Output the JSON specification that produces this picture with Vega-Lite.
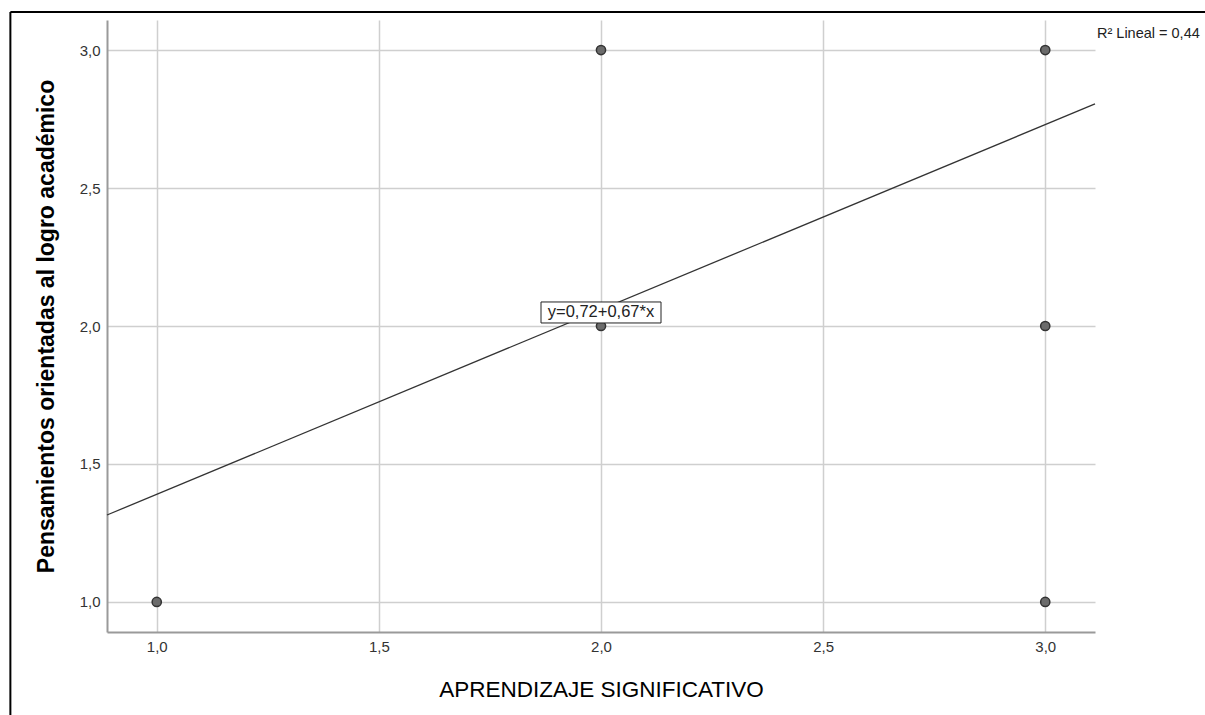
{
  "$schema": "https://vega.github.io/schema/vega-lite/v6.json",
  "autosize": "none",
  "width": 988,
  "height": 612,
  "padding": {"left": 107, "top": 20, "right": 110, "bottom": 83},
  "background": "white",
  "config": {
    "font": "Liberation Sans",
    "view": {"stroke": null},
    "axis": {
      "labelFont": "Liberation Sans",
      "titleFont": "Liberation Sans",
      "labelFontSize": 15,
      "labelColor": "#333333",
      "ticks": false,
      "domainColor": "#9a9a9a",
      "domainWidth": 2,
      "gridColor": "#cfcfcf",
      "gridWidth": 1.5,
      "gridOpacity": 1,
      "titleColor": "#000000",
      "titleFontSize": 22
    }
  },
  "datasets": {
    "points": [
      {"x": 1, "y": 1},
      {"x": 2, "y": 2},
      {"x": 2, "y": 3},
      {"x": 3, "y": 1},
      {"x": 3, "y": 2},
      {"x": 3, "y": 3}
    ],
    "fit": [
      {"x": 0.888, "y": 1.315, "x2": 3.112, "y2": 2.805}
    ],
    "eq": [
      {"x": 2.0, "y": 2.049, "label": "y=0,72+0,67*x"}
    ],
    "r2": [
      {"x": 3.112, "y": 3.06, "label": "R² Lineal = 0,44"}
    ],
    "frame": [
      {"x": 0.6705, "y": 3.1377, "x2": 3.36, "y2": 0.59}
    ]
  },
  "layer": [
    {
      "data": {"name": "fit"},
      "mark": {"type": "rule", "color": "#333333", "strokeWidth": 1.3},
      "encoding": {
        "x": {
          "field": "x", "type": "quantitative",
          "scale": {"domain": [0.888, 3.112], "nice": false, "zero": false},
          "axis": {
            "values": [1, 1.5, 2, 2.5, 3],
            "labelExpr": "replace(format(datum.value, '.1f'), '.', ',')",
            "labelPadding": 7,
            "title": "APRENDIZAJE SIGNIFICATIVO",
            "titleFontWeight": "normal",
            "titleFontSize": 22.5,
            "titlePadding": 24
          }
        },
        "y": {
          "field": "y", "type": "quantitative",
          "scale": {"domain": [0.891, 3.109], "nice": false, "zero": false},
          "axis": {
            "values": [1, 1.5, 2, 2.5, 3],
            "labelExpr": "replace(format(datum.value, '.1f'), '.', ',')",
            "labelPadding": 7,
            "title": "Pensamientos orientadas al logro académico",
            "titleFontWeight": "bold",
            "titleFontSize": 23,
            "titlePadding": 21
          }
        },
        "x2": {"field": "x2"},
        "y2": {"field": "y2"}
      }
    },
    {
      "data": {"name": "points"},
      "mark": {"type": "point", "filled": true, "fill": "#6b6b6b", "stroke": "#333333", "strokeWidth": 1.5, "size": 85, "opacity": 1},
      "encoding": {
        "x": {"field": "x", "type": "quantitative"},
        "y": {"field": "y", "type": "quantitative"}
      }
    },
    {
      "data": {"name": "eq"},
      "mark": {"type": "point", "shape": "M-1,-0.175L1,-0.175L1,0.175L-1,0.175Z", "size": 14400, "filled": true, "fill": "white", "stroke": "#222222", "strokeWidth": 1, "opacity": 1},
      "encoding": {
        "x": {"field": "x", "type": "quantitative"},
        "y": {"field": "y", "type": "quantitative"}
      }
    },
    {
      "data": {"name": "eq"},
      "mark": {"type": "text", "fontSize": 16.5, "color": "#222222", "align": "center", "baseline": "middle", "font": "Liberation Sans"},
      "encoding": {
        "x": {"field": "x", "type": "quantitative"},
        "y": {"field": "y", "type": "quantitative"},
        "text": {"field": "label"}
      }
    },
    {
      "data": {"name": "r2"},
      "mark": {"type": "text", "fontSize": 14.5, "color": "#222222", "align": "left", "baseline": "middle", "dx": 2, "clip": false, "font": "Liberation Sans"},
      "encoding": {
        "x": {"field": "x", "type": "quantitative"},
        "y": {"field": "y", "type": "quantitative"},
        "text": {"field": "label"}
      }
    },
    {
      "data": {"name": "frame"},
      "mark": {"type": "rule", "color": "#000000", "strokeWidth": 2, "clip": false},
      "encoding": {
        "x": {"field": "x", "type": "quantitative"},
        "y": {"field": "y", "type": "quantitative"},
        "y2": {"field": "y2"}
      }
    },
    {
      "data": {"name": "frame"},
      "mark": {"type": "rule", "color": "#000000", "strokeWidth": 2, "clip": false},
      "encoding": {
        "x": {"field": "x", "type": "quantitative"},
        "x2": {"field": "x2"},
        "y": {"field": "y", "type": "quantitative"}
      }
    }
  ]
}
